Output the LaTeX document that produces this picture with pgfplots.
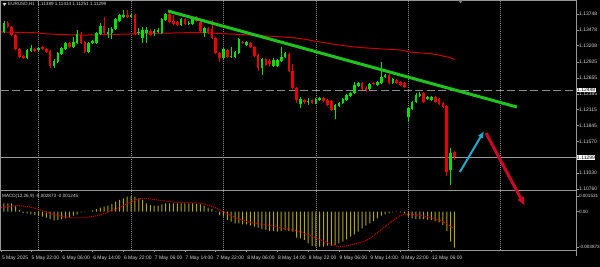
\documentclass[border=0pt]{standalone}
\usepackage{fontspec}
\setmainfont{Liberation Sans}
\usepackage{pgfplots}
\pgfplotsset{compat=1.18}
\usepackage{pgfplotstable}
\usetikzlibrary{arrows.meta}

\definecolor{bull}{RGB}{0,225,0}
\definecolor{bear}{RGB}{235,0,0}
\definecolor{ma}{RGB}{205,0,0}
\definecolor{trend}{RGB}{30,195,30}
\definecolor{framec}{RGB}{150,150,150}
\definecolor{gridc}{RGB}{140,140,140}
\definecolor{txt}{RGB}{215,215,215}
\definecolor{hist}{RGB}{175,165,25}
\definecolor{sig}{RGB}{220,0,0}
\definecolor{cyanarrow}{RGB}{30,170,200}
\definecolor{redarrow}{RGB}{200,10,40}

\newcommand{\tf}{\fontsize{5}{6}\selectfont}
\newcommand{\smf}{\fontsize{4.6}{5.5}\selectfont}
\newcommand{\hf}{\fontsize{4.6}{5.5}\selectfont}

\pgfplotstableread{
i open high low close
0 1.13441 1.13628 1.13424 1.13594
6 1.12997 1.13150 1.12980 1.13133
7 1.13116 1.13219 1.13099 1.13167
9 1.13133 1.13185 1.13116 1.13167
13 1.12860 1.12980 1.12826 1.12945
14 1.12928 1.13099 1.12911 1.13082
15 1.13065 1.13185 1.13048 1.13167
16 1.13150 1.13270 1.13133 1.13253
18 1.13185 1.13355 1.13167 1.13270
19 1.13253 1.13475 1.13236 1.13406
22 1.13099 1.13270 1.13082 1.13253
23 1.13253 1.13304 1.13236 1.13287
24 1.13253 1.13441 1.13236 1.13424
25 1.13406 1.13594 1.13389 1.13543
27 1.13406 1.13509 1.13338 1.13441
28 1.13424 1.13526 1.13321 1.13492
29 1.13492 1.13680 1.13475 1.13663
30 1.13628 1.13748 1.13611 1.13731
31 1.13697 1.13816 1.13680 1.13731
33 1.13697 1.13748 1.13680 1.13731
35 1.13424 1.13509 1.13389 1.13441
36 1.13338 1.13526 1.13253 1.13475
37 1.13424 1.13526 1.13253 1.13475
39 1.13424 1.13492 1.13372 1.13458
40 1.13441 1.13509 1.13424 1.13475
41 1.13424 1.13680 1.13406 1.13663
42 1.13646 1.13765 1.13628 1.13748
46 1.13560 1.13680 1.13543 1.13663
48 1.13577 1.13628 1.13560 1.13594
49 1.13577 1.13697 1.13560 1.13680
52 1.13424 1.13526 1.13355 1.13509
57 1.12997 1.13167 1.12980 1.13150
59 1.13014 1.13185 1.12997 1.13031
60 1.13014 1.13116 1.12997 1.13099
61 1.13082 1.13338 1.13065 1.13321
63 1.13219 1.13287 1.13202 1.13270
67 1.12826 1.12997 1.12706 1.12980
70 1.12860 1.12997 1.12843 1.12963
71 1.12860 1.12980 1.12843 1.12963
72 1.12945 1.13185 1.12928 1.13014
73 1.13014 1.13099 1.12997 1.13082
77 1.12211 1.12331 1.12143 1.12297
79 1.12245 1.12314 1.12194 1.12263
81 1.12228 1.12314 1.12211 1.12297
82 1.12280 1.12331 1.12263 1.12314
86 1.12109 1.12211 1.11955 1.12194
87 1.12177 1.12245 1.12160 1.12228
88 1.12228 1.12314 1.12211 1.12297
89 1.12280 1.12382 1.12263 1.12365
90 1.12348 1.12416 1.12331 1.12399
91 1.12399 1.12587 1.12382 1.12536
92 1.12519 1.12587 1.12502 1.12570
95 1.12467 1.12570 1.12450 1.12553
97 1.12536 1.12604 1.12519 1.12587
98 1.12570 1.12928 1.12553 1.12672
99 1.12672 1.12724 1.12655 1.12706
101 1.12570 1.12655 1.12553 1.12638
105 1.11989 1.12160 1.11904 1.12143
106 1.12126 1.12263 1.12109 1.12245
107 1.12245 1.12399 1.12228 1.12365
108 1.12348 1.12416 1.12331 1.12382
110 1.12297 1.12348 1.12280 1.12331
111 1.12280 1.12348 1.12263 1.12331
116 1.11084 1.11460 1.10828 1.11375
}\bulltab

\pgfplotstableread{
i open high low close
1 1.13594 1.13628 1.13509 1.13526
2 1.13526 1.13543 1.13372 1.13389
3 1.13389 1.13406 1.13133 1.13150
4 1.13150 1.13167 1.12997 1.13014
5 1.13031 1.13048 1.12980 1.12997
8 1.13150 1.13167 1.13099 1.13116
10 1.13185 1.13202 1.13133 1.13150
11 1.13150 1.13167 1.13082 1.13099
12 1.13116 1.13133 1.12826 1.12860
17 1.13253 1.13270 1.13167 1.13185
20 1.13389 1.13441 1.13236 1.13253
21 1.13270 1.13287 1.13082 1.13099
26 1.13543 1.13697 1.13406 1.13424
32 1.13731 1.13816 1.13680 1.13697
34 1.13731 1.13748 1.13389 1.13406
38 1.13458 1.13492 1.13372 1.13389
43 1.13748 1.13816 1.13594 1.13611
44 1.13628 1.13731 1.13560 1.13577
45 1.13611 1.13628 1.13543 1.13560
47 1.13663 1.13680 1.13560 1.13577
50 1.13697 1.13714 1.13611 1.13628
51 1.13611 1.13646 1.13441 1.13458
53 1.13509 1.13526 1.13406 1.13424
54 1.13492 1.13646 1.13321 1.13338
55 1.13338 1.13355 1.13065 1.13082
56 1.13082 1.13099 1.12928 1.12997
58 1.13133 1.13150 1.12997 1.13014
62 1.13270 1.13287 1.13236 1.13253
64 1.13253 1.13270 1.13167 1.13185
65 1.13185 1.13202 1.13014 1.13031
66 1.13048 1.13065 1.12775 1.12826
68 1.12980 1.12997 1.12860 1.12877
69 1.12945 1.12980 1.12860 1.12894
74 1.13065 1.13082 1.12758 1.12775
75 1.12775 1.12894 1.12467 1.12484
76 1.12484 1.12502 1.12228 1.12280
78 1.12280 1.12297 1.12211 1.12245
80 1.12280 1.12297 1.12211 1.12228
83 1.12314 1.12331 1.12245 1.12263
84 1.12280 1.12297 1.12177 1.12194
85 1.12263 1.12280 1.12092 1.12109
93 1.12570 1.12587 1.12450 1.12467
94 1.12484 1.12519 1.12416 1.12450
96 1.12570 1.12587 1.12536 1.12553
100 1.12706 1.12724 1.12553 1.12570
102 1.12621 1.12638 1.12553 1.12570
103 1.12587 1.12604 1.12519 1.12536
104 1.12570 1.12587 1.12484 1.12502
109 1.12399 1.12416 1.12228 1.12245
112 1.12331 1.12348 1.12228 1.12245
113 1.12297 1.12314 1.12194 1.12211
114 1.12228 1.12245 1.12143 1.12160
115 1.12177 1.12194 1.10982 1.11050
117 1.11389 1.11414 1.11251 1.11299
}\beartab

\pgfplotstableread{
i macd
-1 0.000585
0 0.000819
1 0.000819
2 0.000819
3 0.000556
4 0.000166
5 -0.000127
6 -0.000156
7 -0.000254
8 -0.000322
9 -0.00039
10 -0.000488
11 -0.000585
12 -0.000712
13 -0.000839
14 -0.000809
15 -0.000741
16 -0.000644
17 -0.000546
18 -0.00039
19 -0.000254
20 -0.000059
21 -0.00002
22 0.00001
23 0.000137
24 0.000263
25 0.00039
26 0.000488
27 0.000585
28 0.000751
29 0.000975
30 0.001141
31 0.001307
32 0.001463
33 0.001531
34 0.001463
35 0.001307
36 0.001141
37 0.000819
38 0.000653
39 0.000585
40 0.000585
41 0.000722
42 0.000819
43 0.000819
44 0.000819
45 0.000819
46 0.000819
47 0.000819
48 0.000819
49 0.000819
50 0.000751
51 0.000722
52 0.000585
53 0.00039
54 0.000263
55 0.000068
56 -0.000322
57 -0.000488
58 -0.000809
59 -0.000975
60 -0.001131
61 -0.001131
62 -0.001229
63 -0.001229
64 -0.001365
65 -0.001463
66 -0.00156
67 -0.001687
68 -0.001784
69 -0.001882
70 -0.001882
71 -0.00195
72 -0.001882
73 -0.001784
74 -0.001882
75 -0.00195
76 -0.002535
77 -0.002594
78 -0.002759
79 -0.003081
80 -0.003344
81 -0.003413
82 -0.003413
83 -0.003413
84 -0.003315
85 -0.003315
86 -0.003247
87 -0.003081
88 -0.002925
89 -0.002691
90 -0.002438
91 -0.002204
92 -0.00195
93 -0.001619
94 -0.001365
95 -0.001131
96 -0.000907
97 -0.000644
98 -0.00039
99 -0.000254
100 -0.000156
101 -0.000059
102 -0.00001
103 -0.000059
104 -0.000156
105 -0.000488
106 -0.000644
107 -0.000712
108 -0.000712
109 -0.000712
110 -0.00078
111 -0.000809
112 -0.000907
113 -0.001034
114 -0.001297
115 -0.001882
116 -0.002925
117 -0.00351
}\macdtab

\begin{document}
\begin{tikzpicture}[x=1pt,y=1pt]
\useasboundingbox (0,0) rectangle (600,-267);
\fill[black] (0,0) rectangle (600,-267);

% frames
\draw[framec, line width=1pt] (0.5,0) -- (0.5,-251);
\draw[framec, line width=1pt] (0,-0.5) -- (576.5,-0.5);
\draw[framec, line width=1pt] (576,0) -- (576,-256);
\draw[framec, line width=1.6pt] (0,-190.5) -- (576.5,-190.5);
\draw[framec, line width=1.6pt] (0,-250.5) -- (576.5,-250.5);
\fill[gray] (458.5,-0.5) -- (462.5,-0.5) -- (460.5,-3.5) -- cycle;

% MACD panel
\begin{axis}[at={(1pt,-191pt)}, anchor=north west,
  width=575pt, height=59pt, scale only axis,
  xmin=-0.779, xmax=148.57, ymin=-0.003734, ymax=0.002018,
  axis line style={draw=none},
  scaled y ticks=false,
  xtick={-0.7,7,15,23,31,39,47,55,63,71,79,87,95,103,111},
  xticklabels={5 May 2025,5 May 22:00,6 May 06:00,6 May 14:00,6 May 22:00,7 May 06:00,7 May 14:00,7 May 22:00,8 May 06:00,8 May 14:00,8 May 22:00,9 May 06:00,9 May 14:00,9 May 22:00,12 May 06:00},
  xtick pos=bottom, xticklabel pos=bottom,
  xticklabel style={font=\tf, text=txt, anchor=north west, inner sep=0.5pt, yshift=-2.5pt},
  ytick={0.001531,0,-0.00344},
  yticklabels={0.001531,0.00,-0.003873},
  ytick pos=right, yticklabel pos=right,
  yticklabel style={font=\smf, text=txt, anchor=west, inner sep=0.3pt},
  tick align=outside, major tick length=2.5pt,
  tick style={framec, line width=0.6pt},
  extra x ticks={9,33,57,81,105,129}, extra x tick labels={},
  extra x tick style={grid=major, major tick length=0pt},
  major grid style={gridc, dash pattern=on 1pt off 1pt, line width=0.7pt},
]
\addplot[ybar, bar width=1pt, fill=hist, draw=none] table[x=i, y=macd] {\macdtab};
\addplot[sig, line width=1pt, dash pattern=on 1pt off 1pt, smooth] coordinates {
(-0.78,0.00039) (3.4,0.000585) (7.5,0.00039) (11.9,-0.000156) (16.4,-0.000546)
(20.5,-0.000585) (24.9,-0.000322) (29.4,0.000332) (33.5,0.001043) (36.1,0.001307)
(39.7,0.001141) (44.9,0.000917) (50.9,0.000819) (55.3,0.000332) (59.5,-0.000488)
(63.9,-0.001034) (68.3,-0.001297) (72.5,-0.001619) (76.9,-0.00195) (81.3,-0.002594)
(85.5,-0.003247) (87.3,-0.003413) (89.9,-0.003247) (94.3,-0.002759) (98.4,-0.001619)
(102.9,-0.00039) (105.5,-0.000254) (109.9,-0.000488) (114,-0.000975) (116.6,-0.00156)};
\end{axis}

% main panel
\begin{axis}[at={(1pt,-1pt)}, anchor=north west,
  width=575pt, height=189pt, scale only axis,
  xmin=-0.779, xmax=148.57, ymin=1.10743, ymax=1.13970,
  clip=false,
  axis line style={draw=none},
  scaled y ticks=false,
  xtick=\empty,
  ytick={1.13748,1.13478,1.13208,1.12925,1.12655,1.12385,1.12115,1.11845,1.11570,1.11030,1.10760},
  yticklabels={1.13748,1.13478,1.13208,1.12925,1.12655,1.12385,1.12115,1.11845,1.11570,1.11030,1.10760},
  ytick pos=right, yticklabel pos=right,
  yticklabel style={font=\tf, text=txt, anchor=west, inner sep=0.5pt},
  tick align=outside, major tick length=2.5pt,
  tick style={framec, line width=0.6pt},
  extra x ticks={9,33,57,81,105,129}, extra x tick labels={},
  extra x tick style={grid=major, major tick length=0pt},
  major grid style={gridc, dash pattern=on 1pt off 1pt, line width=0.7pt},
]
% horizontal price lines
\addplot[gridc, line width=1pt, dash pattern=on 8pt off 3.5pt] coordinates {(-0.779,1.12448) (148.57,1.12448)};
\addplot[gray!80, line width=0.7pt] coordinates {(-0.779,1.11299) (148.57,1.11299)};
% moving average
\addplot[ma, line width=1pt, smooth] coordinates {
(-0.78,1.13441) (7.5,1.13429) (12,1.13406) (20.5,1.13389) (29.3,1.13401) (38,1.13415)
(50.9,1.13432) (55.3,1.13418) (63.9,1.13389) (72.5,1.13355) (76.9,1.13330) (81.3,1.13279)
(89.9,1.13193) (98.4,1.13150) (102.9,1.13133) (105.5,1.13099) (111.4,1.13065) (114,1.13031)
(115.8,1.13005) (117.1,1.12971)};
% candles: wicks
\addplot[draw=none, mark=none, error bars/.cd, y dir=plus, y explicit, error mark=none,
  error bar style={draw=bull, line width=0.8pt}]
  table[x=i, y=low, y error expr=\thisrow{high}-\thisrow{low}] {\bulltab};
\addplot[draw=none, mark=none, error bars/.cd, y dir=plus, y explicit, error mark=none,
  error bar style={draw=bear, line width=0.8pt}]
  table[x=i, y=low, y error expr=\thisrow{high}-\thisrow{low}] {\beartab};
% candles: bodies
\addplot[draw=none, mark=none, error bars/.cd, y dir=plus, y explicit, error mark=none,
  error bar style={draw=bull, line width=2.6pt}]
  table[x=i, y=open, y error expr=\thisrow{close}-\thisrow{open}] {\bulltab};
\addplot[draw=none, mark=none, error bars/.cd, y dir=plus, y explicit, error mark=none,
  error bar style={draw=bear, line width=2.6pt}]
  table[x=i, y=close, y error expr=\thisrow{open}-\thisrow{close}] {\beartab};
% trend line
\addplot[trend, line width=3pt] coordinates {(42.6,1.13799) (133.2,1.12160)};
% arrows
\addplot[cyanarrow, line width=2pt, -{Latex[length=7pt,width=6pt]}] coordinates {(118.4,1.11050) (124.7,1.11750)};
\addplot[redarrow, line width=3pt, -{Latex[length=9pt,width=8pt]}] coordinates {(125.2,1.11716) (135.3,1.10470)};
\coordinate (hlA) at (axis cs:148.57,1.12448);
\coordinate (hlB) at (axis cs:148.57,1.11299);
\end{axis}

\node[anchor=west, fill=white, text=black, inner sep=0.4pt, font=\tf] at ([xshift=0.6pt]hlA) {1.12448};
\node[anchor=west, fill=white, text=black, inner sep=0.4pt, font=\tf] at ([xshift=0.6pt]hlB) {1.11299};

\fill[txt] (2.5,-3) -- (6.5,-3) -- (4.5,-6) -- cycle;
\node[anchor=west, inner sep=0pt, font=\hf, text=txt] at (8,-4.6) {EURUSD,H1\ \ 1.11389 1.11414 1.11251 1.11299};
\node[anchor=west, inner sep=0pt, font=\hf, text=txt] at (2,-196) {MACD(12,26,9) -0.002873 -0.001245};
\end{tikzpicture}
\end{document}
